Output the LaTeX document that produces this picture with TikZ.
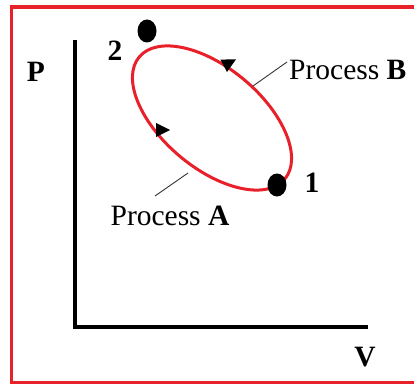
\documentclass[tikz,border=0pt]{standalone}
\usepackage{fontspec}
\setmainfont{Liberation Serif}
\usetikzlibrary{shapes.geometric}
\definecolor{CycleRed}{HTML}{E8202A}

\begin{document}
\begin{tikzpicture}[x=1pt, y=-1pt,
  lbl/.style={font=\fontsize{29.5}{30}\selectfont, inner sep=0pt},
  state/.style={ellipse, fill=black, minimum width=19pt, minimum height=23pt, inner sep=0pt},
  leader/.style={draw=black!80, line width=0.9pt}]
  \useasboundingbox (0,0) rectangle (414,385);
  % frame
  \draw[CycleRed, line width=3.5pt] (416,7) -- (11.5,7) -- (11.5,382.5) -- (416,382.5);
  % axes
  \coordinate (top) at (75,40);
  \coordinate (o) at (75,327);
  \coordinate (right) at (368,327);
  \draw[line width=3.5pt] (top) -- (o) -- (right);
  \node[lbl] (p) at (36,72) {\textbf{P}};
  \node[lbl] (v) at (365,357) {\textbf{V}};
  % cycle
  \coordinate (c) at (212,118);
  \draw[CycleRed, line width=3pt, rotate around={-40:(c)}] (c) ellipse [x radius=95, y radius=50];
  \fill[shift={(229,63)}, rotate=28] (8,0) -- (-6,-7) -- (-6,7) -- cycle;
  \fill[shift={(162,130)}] (8,0) -- (-6,-7) -- (-6,7) -- cycle;
  % states
  \node[state] (s1) at (277,185) {};
  \node[state] (s2) at (147,31) {};
  \node[lbl] (n1) at (312,183) {\textbf{1}};
  \node[lbl] (n2) at (115,51) {\textbf{2}};
  % process labels
  \node[lbl, anchor=west] (pb) at (289,70) {Process \textbf{B}};
  \node[lbl] (pa) at (170,216) {Process \textbf{A}};
  \coordinate (bon) at (253,86);
  \coordinate (bend) at (287,62);
  \coordinate (aon) at (188,173);
  \coordinate (aend) at (155,196);
  \draw[leader] (bon) -- (bend);
  \draw[leader] (aon) -- (aend);
\end{tikzpicture}
\end{document}
